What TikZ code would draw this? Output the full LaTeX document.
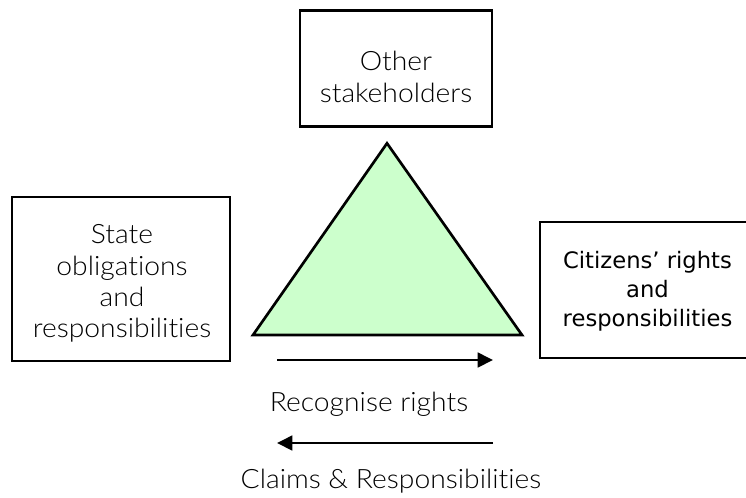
\documentclass[tikz,border=0pt]{standalone}
\usepackage{fontspec}
\setmainfont{Lato Light}[FakeStretch=1.06, Ligatures=NoCommon]
\newfontfamily\tahomalike{DejaVu Sans}
\usetikzlibrary{arrows.meta}

\tikzset{every picture/.style={line width=0.75pt}}
\tikzset{
  stakebox/.style={draw, line width=2pt, rectangle, inner sep=0pt},
  boxtext/.style={inner sep=0.75pt, align=center, font=\fontsize{20}{23.5}\selectfont},
  flowarrow/.style={line width=2pt, -{Triangle[length=11.5pt, width=11pt]}}
}

\begin{document}
\begin{tikzpicture}[x=0.75pt,y=0.75pt,yscale=-1,xscale=1]
\useasboundingbox (0,0) rectangle (746,497);

%Shape: Rectangle [others]
\node [stakebox, minimum width=144pt, minimum height=87pt] (others) at (396,68.7) {};
%Shape: Rectangle [state]
\node [stakebox, minimum width=163.5pt, minimum height=123pt] (state) at (121,279) {};
%Shape: Rectangle [citizens]
\node [stakebox, minimum width=160pt, minimum height=102pt] (citizens) at (646.7,290) {};

%Shape: Triangle
\draw [line width=2pt, fill={rgb, 255:red, 204; green, 255; blue, 204 }, line join=miter]
  (387,143.3) -- (522,335) -- (253,335) -- cycle ;

%Straight Lines
\coordinate (recA) at (277,360);
\coordinate (recB) at (493,360);
\draw [flowarrow] (recA) -- (recB) ;
%Straight Lines
\coordinate (claimA) at (493,443);
\coordinate (claimB) at (277,443);
\draw [flowarrow] (claimA) -- (claimB) ;

% Text Node
\node [boxtext] (otherstxt) at (396,77) {Other\\stakeholders};
% Text Node
\node [boxtext] (statetxt) at (122,283.5) {State\\obligations\\and\\responsibilities};
% Text Node
\node [boxtext, font=\tahomalike\fontsize{17}{21.8}\selectfont] (citizenstxt) at (647.5,291) {Citizens’ rights\\and\\responsibilities};
% Text Node
\node [boxtext, anchor=base] (rectxt) at (369,411) {Recognise rights};
% Text Node
\node [boxtext, anchor=base] (claimtxt) at (391,488) {Claims \& Responsibilities};

\end{tikzpicture}
\end{document}
